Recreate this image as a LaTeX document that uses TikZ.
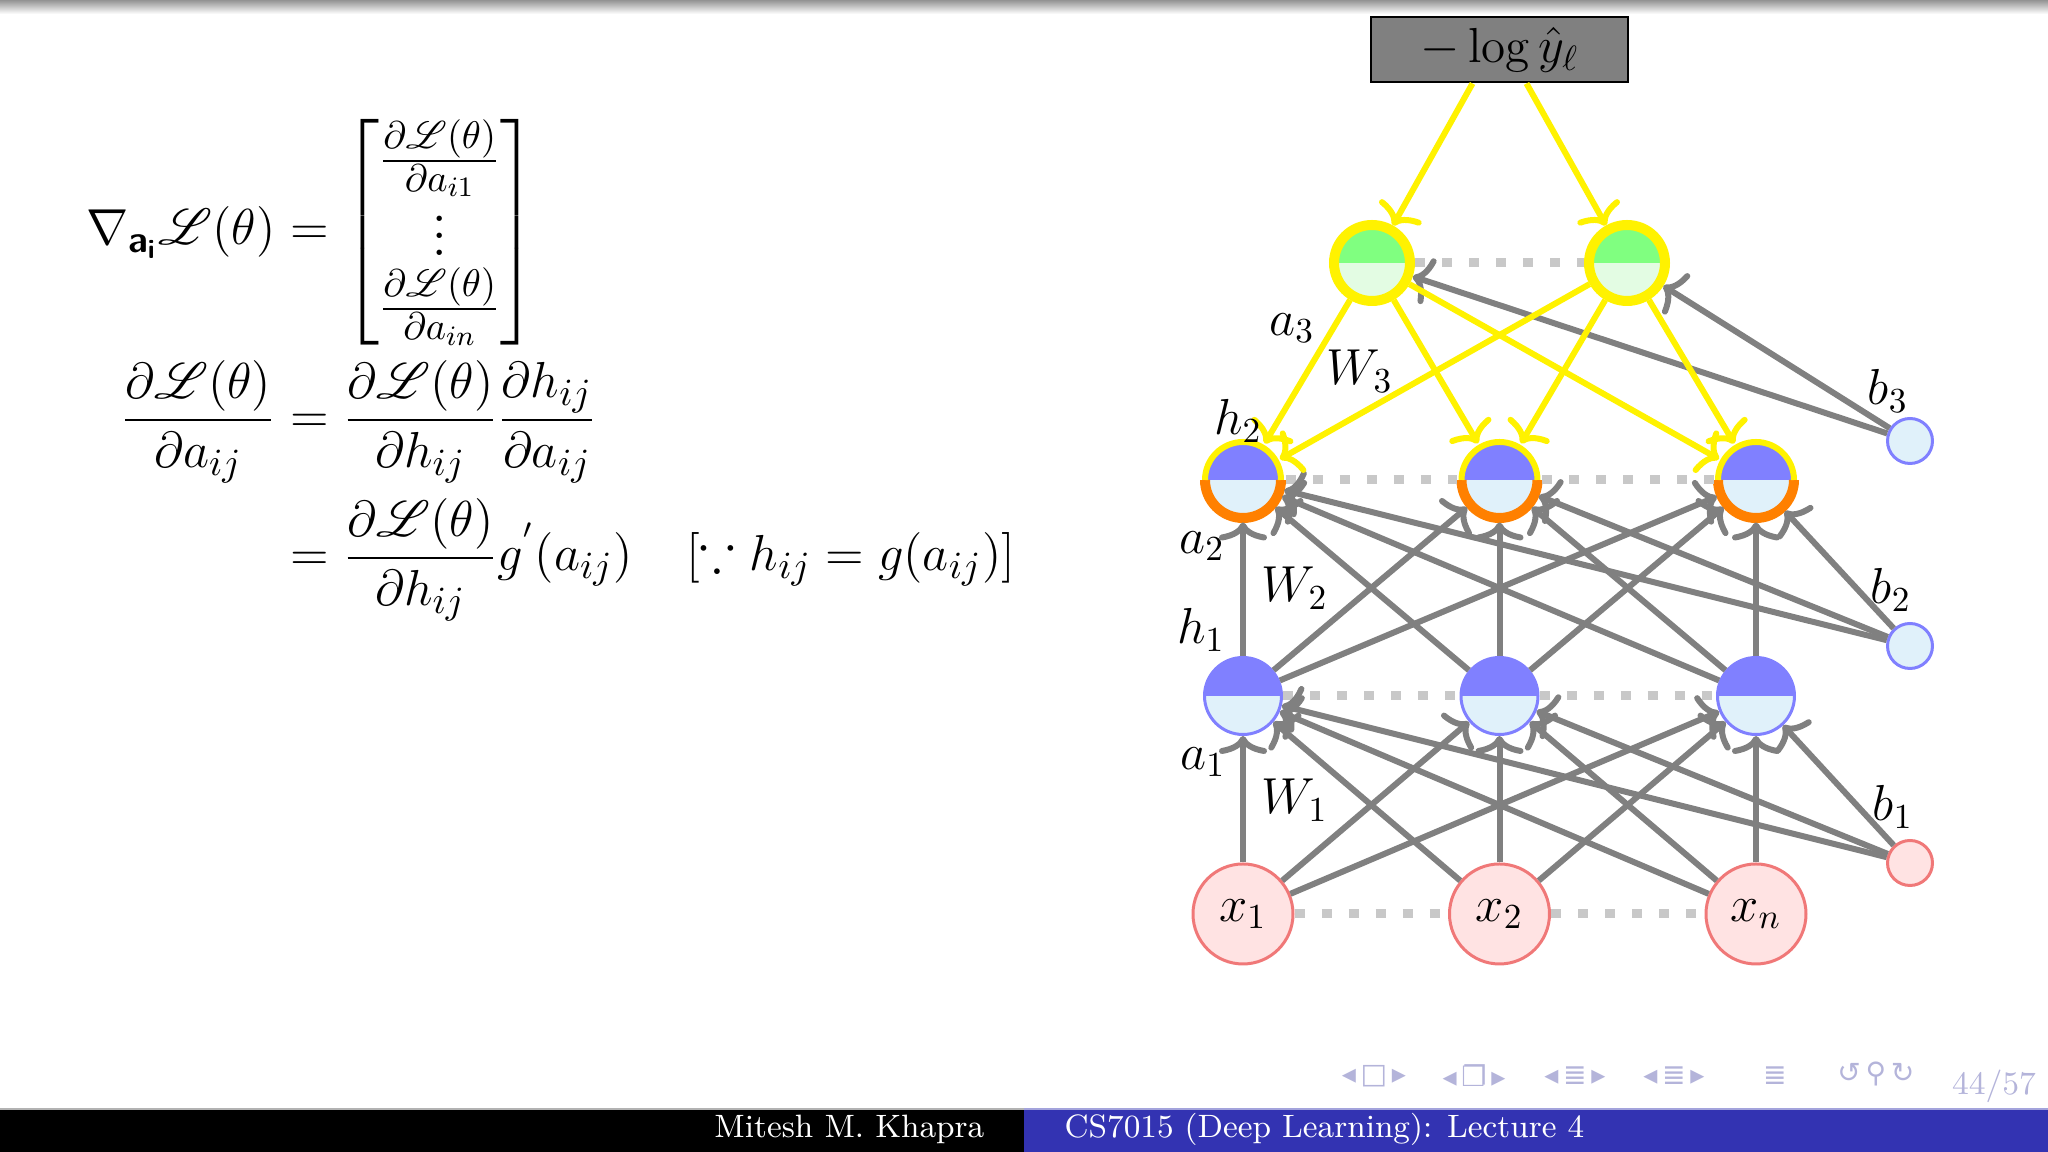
\documentclass[tikz,border=0pt]{standalone}
\usepackage{amsmath,amssymb}
\usepackage{mathrsfs}
\usepackage{fontspec}
\usepackage{tikz}
\usetikzlibrary{positioning,arrows.meta,calc}
\newfontfamily\navfont{DejaVu Sans}
\definecolor{NNblue}{HTML}{8080FF}
\definecolor{NNpale}{HTML}{E0F1FA}
\definecolor{NNgreen}{HTML}{80FF80}
\definecolor{NNmint}{HTML}{E3FCE3}
\definecolor{NNpink}{HTML}{FFE3E3}
\definecolor{NNred}{HTML}{F07878}
\definecolor{NNorange}{HTML}{FF8000}
\definecolor{NNyellow}{HTML}{FFF200}
\definecolor{NNgray}{HTML}{808080}
\definecolor{NNdots}{HTML}{C8C8C8}
\definecolor{barblue}{HTML}{3333B2}
\definecolor{navgray}{HTML}{B4B4DA}
\newcommand{\scrL}{\mathscr{L}(\theta)}
\newcommand{\bigvdots}{\scalebox{1.22}{$\vdots$}}
\tikzset{
  halves/.style 2 args={path picture={
    \fill[#1] (path picture bounding box.west) rectangle (path picture bounding box.north east);
    \fill[#2] (path picture bounding box.west) rectangle (path picture bounding box.south east);}},
  hidunit/.style={circle, inner sep=0pt, minimum size=0.77cm, halves={NNblue}{NNpale}, draw=NNblue, line width=0.03cm},
  gradunit/.style={circle, inner sep=0pt, minimum size=0.76cm, halves={NNblue}{NNpale}, outer sep=0.045cm},
  outunit/.style={circle, inner sep=0pt, minimum size=0.76cm, halves={NNgreen}{NNmint}, draw=NNyellow, line width=0.1cm},
  inunit/.style={circle, inner sep=0pt, minimum size=1.0cm, fill=NNpink, draw=NNred, line width=0.03cm},
  bluebias/.style={circle, inner sep=0pt, minimum size=0.45cm, fill=NNpale, draw=NNblue, line width=0.03cm},
  redbias/.style={circle, inner sep=0pt, minimum size=0.45cm, fill=NNpink, draw=NNred, line width=0.03cm},
  lossbox/.style={draw=black, fill=NNgray, line width=0.02cm, minimum width=2.57cm, minimum height=0.65cm, inner sep=0pt, font=\fontsize{14}{17}\selectfont},
  fwd/.style={draw=NNgray, line width=0.06cm, -{To[length=1.8mm, width=4.8mm]}},
  bwd/.style={draw=NNyellow, line width=0.06cm, -{To[length=1.8mm, width=4.8mm]}},
  rowdots/.style={draw=NNdots, line width=0.09cm, dash pattern=on 0.1cm off 0.17cm},
  lbl/.style={inner sep=0pt},
  eqn/.style={inner sep=0pt, font=\fontsize{15.3}{18.4}\selectfont},
  nav/.style={inner sep=0pt, text=navgray, font=\navfont\fontsize{8}{9}\selectfont},
  foot/.style={inner sep=0pt, text=white, font=\fontsize{9.2}{11}\selectfont}
}

\begin{document}
\begin{tikzpicture}[font=\fontsize{14.8}{17.8}\selectfont]
\useasboundingbox (0,0) rectangle (20.48,11.52);
\shade[top color=gray!85, bottom color=white] (0,11.38) rectangle (20.48,11.52);

% equations
\node[eqn, anchor=base east] (lhsA) at (2.76,9.07) {$\nabla_{\textbf{\textsf{a}}_{\textbf{\textsf{i}}}}\scrL$};
\node[eqn, anchor=base west] (rhsA) at (2.76,9.07) {${}=\begin{bmatrix}\frac{\partial\scrL}{\partial a_{i1}}\\[-2pt] \bigvdots\\[-2pt] \frac{\partial\scrL}{\partial a_{in}}\end{bmatrix}$};
\node[eqn, anchor=base east] (lhsB) at (2.76,7.19) {$\dfrac{\partial\scrL}{\partial a_{ij}}$};
\node[eqn, anchor=base west] (rhsB) at (2.76,7.19) {${}=\dfrac{\partial\scrL}{\partial h_{ij}}\dfrac{\partial h_{ij}}{\partial a_{ij}}$};
\node[eqn, anchor=base west] (rhsC) at (2.76,5.81) {${}=\dfrac{\partial\scrL}{\partial h_{ij}}g^{'}(a_{ij})\quad[\because h_{ij}=g(a_{ij})]$};

% network
\node[lossbox] (loss) at (14.995,11.02) {$-\log\hat{y}_\ell$};
\node[outunit] (oa) at (13.72,8.89) {};
\node[outunit] (ob) at (16.27,8.89) {};
\node[gradunit] (ga) at (12.43,6.72) {};
\node[gradunit] (gb) at (14.995,6.72) {};
\node[gradunit] (gc) at (17.56,6.72) {};
\node[hidunit] (ha) at (12.43,4.56) {};
\node[hidunit] (hb) at (14.995,4.56) {};
\node[hidunit] (hc) at (17.56,4.56) {};
\node[inunit] (xa) at (12.43,2.38) {$x_1$};
\node[inunit] (xb) at (14.995,2.38) {$x_2$};
\node[inunit] (xc) at (17.56,2.38) {$x_n$};
\node[bluebias] (bC) at (19.10,7.11) {};
\node[bluebias] (bB) at (19.10,5.06) {};
\node[redbias] (bA) at (19.10,2.89) {};
\foreach \n in {ga,gb,gc}{
  \draw[NNorange, line width=0.1cm] ($(\n.center)+(-0.38,0)$) arc[start angle=180, end angle=360, radius=0.38cm];
  \draw[NNyellow, line width=0.06cm] ($(\n.center)+(-0.38,0)$) arc[start angle=180, end angle=0, radius=0.38cm];
}

\draw[rowdots] (oa) -- (ob);
\draw[rowdots] (ga) -- (gb) -- (gc);
\draw[rowdots] (ha) -- (hb) -- (hc);
\draw[rowdots] (xa) -- (xb) -- (xc);

\foreach \s in {xa,xb,xc,bA}
  \foreach \t in {ha,hb,hc}
    \draw[fwd] (\s) -- (\t);
\foreach \s in {ha,hb,hc,bB}
  \foreach \t in {ga,gb,gc}
    \draw[fwd] (\s) -- (\t);
\draw[fwd] (bC) -- (oa);
\draw[fwd] (bC) -- (ob);

\coordinate (lossL) at ($(loss.south)+(-0.27,0)$);
\coordinate (lossR) at ($(loss.south)+(0.27,0)$);
\draw[bwd] (lossL) -- (oa);
\draw[bwd] (lossR) -- (ob);
\foreach \s in {oa,ob}
  \foreach \t in {ga,gb,gc}
    \draw[bwd] (\s) -- (\t);

% labels
\node[lbl] (la3) at (12.92,8.24) {$a_3$};
\node[lbl] (lW3) at (13.60,7.81) {$W_3$};
\node[lbl] (lh2) at (12.38,7.31) {$h_2$};
\node[lbl] (la2) at (12.02,6.06) {$a_2$};
\node[lbl] (lW2) at (12.95,5.64) {$W_2$};
\node[lbl] (lh1) at (12.01,5.22) {$h_1$};
\node[lbl] (la1) at (12.03,3.90) {$a_1$};
\node[lbl] (lW1) at (12.95,3.52) {$W_1$};
\node[lbl] (lb3) at (18.88,7.61) {$b_3$};
\node[lbl] (lb2) at (18.91,5.62) {$b_2$};
\node[lbl] (lb1) at (18.93,3.45) {$b_1$};

% footer
\fill[black] (0,0) rectangle (10.24,0.43);
\fill[barblue] (10.24,0) rectangle (20.48,0.43);
\draw[gray!60, line width=0.02cm] (0,0.43) -- (10.24,0.43);
\draw[barblue!45, line width=0.02cm] (10.24,0.43) -- (20.48,0.43);
\node[foot, anchor=base east] (author) at (9.85,0.14) {Mitesh M. Khapra};
\node[foot, anchor=base west] (course) at (10.64,0.14) {CS7015 (Deep Learning): Lecture 4};

% navigation
\node[nav] (navA) at (13.74,0.76) {◂\,□\,▸};
\node[nav] (navB) at (14.74,0.76) {◂\,❐\,▸};
\node[nav] (navC) at (15.75,0.76) {◂\,≣\,▸};
\node[nav] (navD) at (16.74,0.76) {◂\,≣\,▸};
\node[nav] (navE) at (17.75,0.76) {≣};
\node[nav] (navF) at (18.76,0.78) {↺\,⚲\,↻};
\node[lbl, text=navgray, font=\fontsize{9.3}{11}\selectfont] (page) at (19.94,0.66) {44/57};
\end{tikzpicture}
\end{document}
